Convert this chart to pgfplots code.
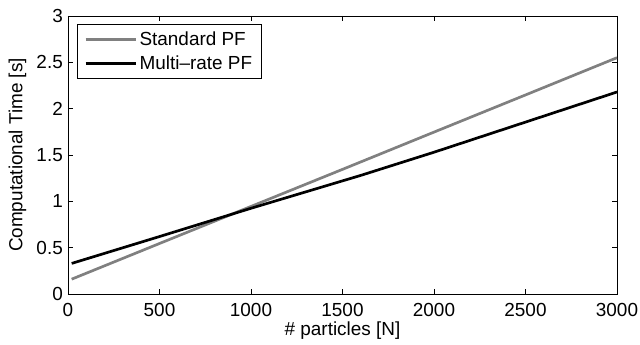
\documentclass[border=0pt]{standalone}
\usepackage{fontspec}
\setmainfont{Liberation Sans}
\usepackage{pgfplots}
\pgfplotsset{compat=1.18}
\definecolor{stdgray}{RGB}{128,128,128}
\begin{document}
\begin{tikzpicture}
\begin{axis}[
  name=ax,
  width=549bp, height=278bp, scale only axis,
  xmin=0, xmax=3000, ymin=0, ymax=3,
  xtick={0,500,...,3000}, ytick={0,0.5,...,3},
  scaled ticks=false,
  /pgf/number format/1000 sep={},
  /pgf/number format/assume math mode=true,
  tick align=inside, major tick length=5bp,
  tick style={black, line width=0.7pt},
  axis line style={line width=0.9pt},
  font=\fontsize{19}{22}\selectfont,
  ticklabel style={font=\fontsize{19}{22}\selectfont, inner sep=1bp},
  xticklabel style={yshift=-8bp},
  yticklabel style={xshift=-4bp},
  xlabel={\# particles [N]},
  ylabel={Computational Time [s]},
  xlabel style={at={(axis description cs:0.5,-0.13)}, anchor=center, inner sep=0pt},
  ylabel style={at={(axis description cs:-0.092,0.5)}, anchor=center, inner sep=0pt},
  legend cell align=left,
  legend style={at={(0.0164,0.971)}, anchor=north west, draw=black, line width=0.7pt,
    font=\fontsize{19}{22}\selectfont, inner xsep=7bp, inner ysep=5bp, row sep=3.5bp,
    nodes={inner sep=2.5bp}},
  legend image code/.code={\draw[#1] (0pt,0pt) -- (50bp,0pt);},
]
\addplot[stdgray, line width=2.7pt] coordinates {
  (20,0.16) (500,0.545) (1000,0.945) (1500,1.345) (2000,1.747) (2500,2.148) (3000,2.55)
};
\addlegendentry{Standard PF}
\addplot[black, line width=2.7pt] coordinates {
  (20,0.33) (500,0.62) (1000,0.925) (1600,1.28) (2000,1.53) (2500,1.855) (3000,2.18)
};
\addlegendentry{Multi--rate PF}
\end{axis}
\path ([shift={(-68bp,-51bp)}]ax.south west) rectangle ([shift={(23bp,16bp)}]ax.north east);
\end{tikzpicture}
\end{document}
